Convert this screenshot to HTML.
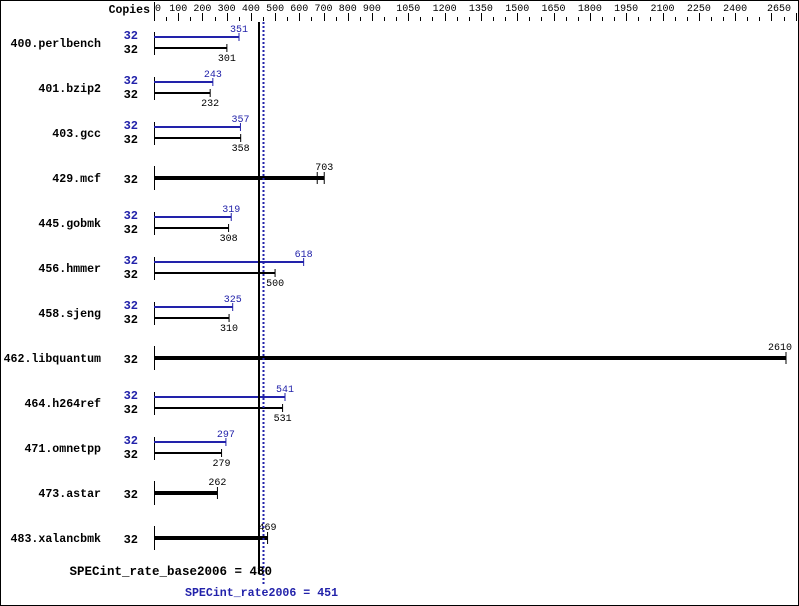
<!DOCTYPE html>
<html><head><style>
html,body{margin:0;padding:0;background:#fff;}
svg{display:block;}
text{font-family:"Liberation Mono","DejaVu Sans Mono",monospace;}
</style></head><body>
<svg id="s" width="799" height="606" xmlns="http://www.w3.org/2000/svg"></svg>
<script>
const s=document.getElementById('s');
let h='<rect x="0.5" y="0.5" width="798" height="605" fill="#fff" stroke="#000"/>';
const X=v=>154+v*632/2610;
h+='<text x="150" y="13" font-size="11.5" font-weight="bold" text-anchor="end">Copies</text>';
h+='<line x1="154.5" y1="2" x2="154.5" y2="21" stroke="#000"/>';
const labs=[0,100,200,300,400,500,600,700,800,900,1050,1200,1350,1500,1650,1800,1950,2100,2250,2400];
labs.forEach(v=>{h+=`<text x="${X(v)+(v==0?4:0)}" y="11" font-size="10" text-anchor="middle">${v}</text>`;});
h+=`<text x="791" y="11" font-size="10" text-anchor="end">2650</text>`;
for(let v=50;v<=2650;v+=50){
  const major=(v<=900&&v%100==0)||(v>=900&&v%150==0)||v==2650;
  const x=Math.round(X(v))+0.5;
  h+=`<line x1="${x}" y1="${major?13:17}" x2="${x}" y2="21" stroke="#000"/>`;
}
const d=[["400.perlbench",351,301],["401.bzip2",243,232],["403.gcc",357,358],["429.mcf",703],["445.gobmk",319,308],["456.hmmer",618,500],["458.sjeng",325,310],["462.libquantum",2610],["464.h264ref",541,531],["471.omnetpp",297,279],["473.astar",262],["483.xalancbmk",469]];
const B="#2222aa";
d.forEach((r,i)=>{
  const c=43+i*45;
  h+=`<text x="101" y="${c+4}" font-size="11.6" font-weight="bold" text-anchor="end">${r[0]}</text>`;
  if(r.length==3){
    const yb=c-6,yk=c+5;
    h+=`<text x="138" y="${yb+2}" font-size="12" font-weight="bold" fill="${B}" text-anchor="end">32</text>`;
    h+=`<text x="138" y="${yk+5}" font-size="12" font-weight="bold" text-anchor="end">32</text>`;
    h+=`<line x1="154.5" y1="${c-11}" x2="154.5" y2="${c+12}" stroke="#000"/>`;
    const xb=X(r[1]),xk=X(r[2]);
    h+=`<line x1="154" y1="${yb}" x2="${xb}" y2="${yb}" stroke="${B}" stroke-width="2"/>`;
    h+=`<line x1="${xb}" y1="${yb-4}" x2="${xb}" y2="${yb+4}" stroke="${B}"/>`;
    h+=`<text x="${xb}" y="${yb-5}" font-size="10" fill="${B}" text-anchor="middle">${r[1]}</text>`;
    h+=`<line x1="154" y1="${yk}" x2="${xk}" y2="${yk}" stroke="#000" stroke-width="2"/>`;
    h+=`<line x1="${xk}" y1="${yk-4}" x2="${xk}" y2="${yk+4}" stroke="#000"/>`;
    h+=`<text x="${xk}" y="${yk+13}" font-size="10" text-anchor="middle">${r[2]}</text>`;
  } else {
    h+=`<text x="138" y="${c+5}" font-size="12" font-weight="bold" text-anchor="end">32</text>`;
    h+=`<line x1="154.5" y1="${c-12}" x2="154.5" y2="${c+12}" stroke="#000"/>`;
    const x=X(r[1]);
    h+=`<line x1="154" y1="${c}" x2="${x}" y2="${c}" stroke="#000" stroke-width="4"/>`;
    h+=`<line x1="${x}" y1="${c-6}" x2="${x}" y2="${c+6}" stroke="#000"/>`;
    if(r[1]==703) h+=`<line x1="${x-7}" y1="${c-6}" x2="${x-7}" y2="${c+6}" stroke="#000"/>`;
    h+=`<text x="${x}" y="${c-8}" font-size="10" text-anchor="${r[1]==2610?'end':'middle'}" ${r[1]==2610?'dx="6"':''}>${r[1]}</text>`;
  }
});
h+=`<line x1="259" y1="22" x2="259" y2="574" stroke="#000" stroke-width="2"/>`;
h+=`<line x1="263.5" y1="22" x2="263.5" y2="585" stroke="${B}" stroke-width="2" stroke-dasharray="2,2"/>`;
h+=`<text x="272" y="575" font-size="12.5" font-weight="bold" text-anchor="end">SPECint_rate_base2006 = 430</text>`;
h+=`<text x="185" y="596" font-size="11.6" font-weight="bold" fill="${B}">SPECint_rate2006 = 451</text>`;
s.innerHTML=h;
</script>
</body></html>
